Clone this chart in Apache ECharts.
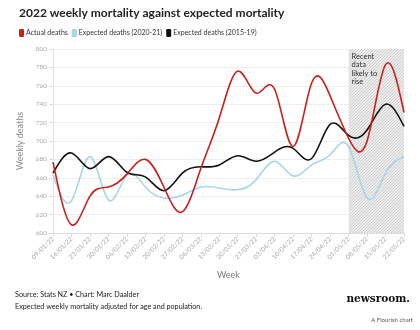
<!DOCTYPE html>
<html><head><meta charset="utf-8">
<script src="https://cdn.jsdelivr.net/npm/echarts@6/dist/echarts.min.js"></script>
<style>html,body{margin:0;padding:0;background:#fff}#c{width:420px;height:330px}</style>
</head><body><div id="c"></div>
<script>
var categories = ['09/01/22','16/01/22','23/01/22','30/01/22','06/02/22','13/02/22','20/02/22','27/02/22','06/03/22','13/03/22','20/03/22','27/03/22','03/04/22','10/04/22','17/04/22','24/04/22','01/05/22','08/05/22','15/05/22','22/05/22'];
var actualDeaths = [677,609,640,650,664,680,650,623,670,725,776,752,756,694,763,749,703,700,783,731];
var expected2021 = [663,635,683,636,663,650,638,641,650,649,647,658,678,662,674,685,694,638,665,683];
var expected1519 = [665,687,670,683,666,661,646,665,672,674,684,678,688,692,681,718,706,712,740,716];
var yTicks = [600,620,640,660,680,700,720,740,760,780,800];
var recentStart = '01/05/22', recentEnd = '22/05/22';

var FONT = 'Lato, "Open Sans", sans-serif';
var pc = document.createElement('canvas');
pc.width = 3; pc.height = 3;
var g = pc.getContext('2d');
g.fillStyle = '#ececec'; g.fillRect(0,0,3,3);
g.fillStyle = '#cfcfcf';
g.fillRect(2,0,1,1); g.fillRect(1,1,1,1); g.fillRect(0,2,1,1);

// natural cubic spline control points (as d3.curveNatural)
function ctrl(x){
  var i, n = x.length - 1, m, a = new Array(n), b = new Array(n), r = new Array(n);
  a[0] = 0; b[0] = 2; r[0] = x[0] + 2 * x[1];
  for (i = 1; i < n - 1; ++i) { a[i] = 1; b[i] = 4; r[i] = 4 * x[i] + 2 * x[i + 1]; }
  a[n - 1] = 2; b[n - 1] = 7; r[n - 1] = 8 * x[n - 1] + x[n];
  for (i = 1; i < n; ++i) { m = a[i] / b[i - 1]; b[i] -= m; r[i] -= m * r[i - 1]; }
  a[n - 1] = r[n - 1] / b[n - 1];
  for (i = n - 2; i >= 0; --i) a[i] = (r[i] - a[i + 1]) / b[i];
  b[n - 1] = (x[n] + a[n - 1]) / 2;
  for (i = 0; i < n - 1; ++i) b[i] = 2 * x[i + 1] - a[i + 1];
  return [a, b];
}
function curveSeries(name, values, color, z){
  return {
    name:name, type:'custom', z:z, silent:true,
    itemStyle:{color:color},
    data: values.map(function(v,i){return [i,v];}),
    encode:{x:0,y:1},
    renderItem:function(params, api){
      if (params.dataIndex !== 0) return null;
      var pts = values.map(function(v,i){ return api.coord([i, v]); });
      var xs = pts.map(function(p){return p[0];}), ys = pts.map(function(p){return p[1];});
      var cx = ctrl(xs), cy = ctrl(ys);
      var d = 'M' + xs[0] + ' ' + ys[0];
      for (var i = 0; i < xs.length - 1; i++) {
        d += ' C' + cx[0][i] + ' ' + cy[0][i] + ' ' + cx[1][i] + ' ' + cy[1][i] + ' ' + xs[i+1] + ' ' + ys[i+1];
      }
      return {type:'path', shape:{pathData:d},
        style:{fill:null, stroke:color, lineWidth:1.6, lineJoin:'round'}};
    }
  };
}

var chart = echarts.init(document.getElementById('c'));
chart.setOption({
  animation:false,
  title:{text:'2022 weekly mortality against expected mortality',left:14,top:2,
    textStyle:{fontFamily:FONT,fontWeight:'bold',fontSize:12,color:'#222'}},
  legend:{left:14,top:24,itemWidth:5,itemHeight:8,itemGap:4,
    icon:'roundRect',
    textStyle:{fontFamily:FONT,fontSize:7,color:'#333',padding:[0,0,0,-3]},
    data:[{name:'Actual deaths',itemStyle:{color:'#c8211b'}},
          {name:'Expected deaths (2020-21)',itemStyle:{color:'#a8d5ec'}},
          {name:'Expected deaths (2015-19)',itemStyle:{color:'#111'}}]},
  grid:{left:53,right:16,top:49,bottom:97,containLabel:false},
  xAxis:{type:'category',data:categories,boundaryGap:false,
    name:'Week',nameLocation:'middle',nameGap:38,
    nameTextStyle:{fontFamily:FONT,fontSize:9,color:'#777'},
    axisLine:{lineStyle:{color:'#ddd'}},
    axisTick:{show:true,alignWithLabel:true,length:4,lineStyle:{color:'#ddd'}},
    axisLabel:{rotate:45,fontFamily:FONT,fontSize:6.5,color:'#aaa',interval:0,margin:5},
    splitLine:{show:false}},
  yAxis:{type:'value',min:600,max:800,interval:20,
    name:'Weekly deaths',nameLocation:'middle',nameGap:20,
    nameTextStyle:{fontFamily:FONT,fontSize:9,color:'#888'},
    axisLine:{show:true,lineStyle:{color:'#e4e4e4'}},
    axisTick:{show:true,length:4,lineStyle:{color:'#ddd'}},
    axisLabel:{fontFamily:FONT,fontSize:6.5,color:'#aaa',margin:6,
      formatter:function(v){return yTicks.indexOf(v)>=0?String(v):'';}},
    splitLine:{lineStyle:{color:'#eee'}}},
  graphic:[
    {type:'text',left:15,top:291,style:{text:'Source: Stats NZ • Chart: Marc Daalder',fontFamily:FONT,fontSize:7.2,fill:'#222'}},
    {type:'text',left:15,top:303,style:{text:'Expected weekly mortality adjusted for age and population.',fontFamily:FONT,fontSize:7.2,fill:'#222'}},
    {type:'text',right:10,top:294,style:{text:'newsroom.',fontFamily:'"DejaVu Serif", serif',fontWeight:'bold',fontSize:10.5,fill:'#111'}},
    {type:'text',right:7,top:317,style:{text:'A Flourish chart',fontFamily:FONT,fontSize:6,fill:'#555'}}
  ],
  series:[
    {name:'recent',type:'line',data:actualDeaths,symbol:'none',silent:true,z:1,
      lineStyle:{opacity:0},
      markArea:{silent:true,
        itemStyle:{color:{image:pc,repeat:'repeat'}},
        label:{show:true,position:'insideTopLeft',formatter:'Recent\ndata\nlikely to\nrise',
          color:'#333',fontFamily:FONT,fontSize:7.5,lineHeight:8.5,distance:3},
        data:[[{xAxis:recentStart},{xAxis:recentEnd}]]}},
    curveSeries('Expected deaths (2020-21)', expected2021, '#a8d5ec', 2),
    curveSeries('Expected deaths (2015-19)', expected1519, '#111', 3),
    curveSeries('Actual deaths', actualDeaths, '#c8211b', 4)
  ]
});
</script></body></html>
